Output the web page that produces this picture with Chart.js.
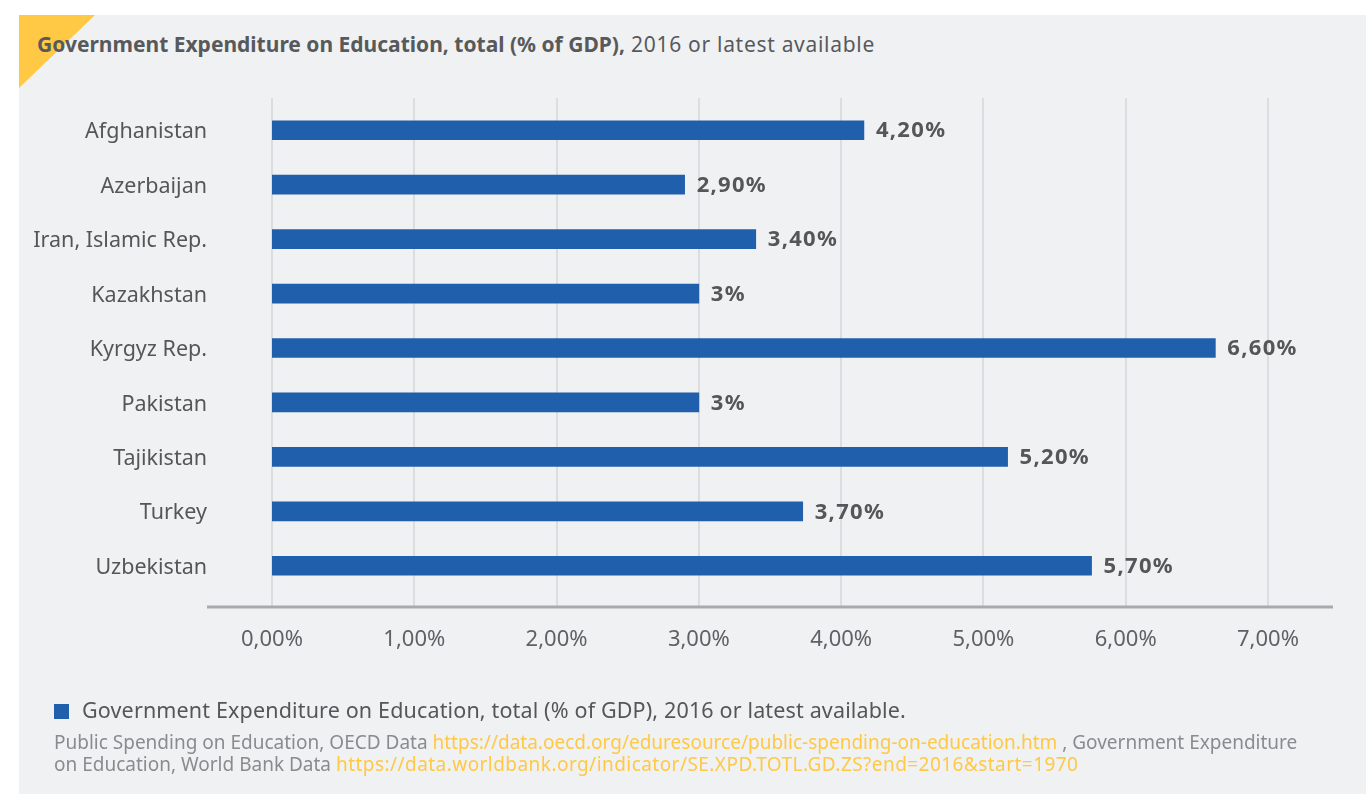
<!DOCTYPE html>
<html>
<head>
<meta charset="utf-8">
<script src="https://cdn.jsdelivr.net/npm/chart.js@4/dist/chart.umd.min.js"></script>
<style>
  body { margin: 0; background: #fff; width: 1366px; height: 794px; overflow: hidden; font-family: "Noto Sans", sans-serif; }
  .panel { position: absolute; left: 19px; top: 15px; width: 1347px; height: 779px; background: #f0f1f3; }
  .corner { position: absolute; left: 19px; top: 15px; width: 76px; height: 73px; background: #ffc845; clip-path: polygon(0 0, 100% 0, 0 100%); }
  .title { position: absolute; left: 37px; top: 30px; font-size: 21px; color: #58595b; white-space: nowrap; letter-spacing: 0.7px; }
  .title b { font-weight: 700; letter-spacing: 0; }
  #wrap { position: absolute; left: 0; top: 0; width: 1366px; height: 794px; }
  .legend { position: absolute; left: 54px; top: 695px; font-size: 21.5px; color: #555658; white-space: nowrap; letter-spacing: 0.15px; }
  .legend span.box { display: inline-block; width: 15px; height: 15px; background: #1f5fac; margin-right: 13px; vertical-align: -1px; }
  .source { position: absolute; left: 54px; top: 731px; width: 1262px; font-size: 19px; line-height: 22px; color: #8a8b8e; }
  .source a { color: #ffc845; text-decoration: none; }
  .source a.wb { letter-spacing: 0.45px; }
</style>
</head>
<body>
<div class="panel"></div>
<div class="corner"></div>
<div class="title"><b>Government Expenditure on Education, total (% of GDP),</b> 2016 or latest available</div>
<div id="wrap"><canvas id="myChart" width="1366" height="794"></canvas></div>
<div class="legend" id="legend"></div>
<div class="source">Public Spending on Education, OECD Data <a>https://data.oecd.org/eduresource/public-spending-on-education.htm</a> , Government Expenditure on Education, World Bank Data <a class="wb">https://data.worldbank.org/indicator/SE.XPD.TOTL.GD.ZS?end=2016&amp;start=1970</a></div>
<script>
var countries = ["Afghanistan", "Azerbaijan", "Iran, Islamic Rep.", "Kazakhstan", "Kyrgyz Rep.", "Pakistan", "Tajikistan", "Turkey", "Uzbekistan"]
var spending = [4.16, 2.9, 3.4, 3.0, 6.63, 3.0, 5.17, 3.73, 5.76]
var spendingLabels = ["4,20%", "2,90%", "3,40%", "3%", "6,60%", "3%", "5,20%", "3,70%", "5,70%"]
var tickLabels = ["0,00%", "1,00%", "2,00%", "3,00%", "4,00%", "5,00%", "6,00%", "7,00%"]
var seriesName = "Government Expenditure on Education, total (% of GDP), 2016 or latest available."

document.getElementById("legend").innerHTML = '<span class="box"></span>' + seriesName

// grid lines and the base line run a bit past the plot area
var gridPlugin = {
    id: "gridLines",
    beforeDatasetsDraw: function(chart){
        var ctx = chart.ctx
        var x = chart.scales.x
        ctx.save()
        ctx.strokeStyle = "#dcdde0"
        ctx.lineWidth = 2
        x.ticks.forEach(function(t){
            var px = Math.round(x.getPixelForValue(t.value))
            ctx.beginPath()
            ctx.moveTo(px, 98)
            ctx.lineTo(px, 607)
            ctx.stroke()
        })
        ctx.strokeStyle = "#a9aaad"
        ctx.lineWidth = 3
        ctx.beginPath()
        ctx.moveTo(207, 607)
        ctx.lineTo(1333, 607)
        ctx.stroke()
        ctx.restore()
    },
    afterDatasetsDraw: function(chart){
        var ctx = chart.ctx
        ctx.save()
        ctx.font = "bold 22px 'Noto Sans'"
        ctx.letterSpacing = "1.3px"
        ctx.fillStyle = "#555658"
        ctx.textBaseline = "middle"
        chart.getDatasetMeta(0).data.forEach(function(bar, i){
            ctx.fillText(spendingLabels[i], bar.x + 12, bar.y + 1)
        })
        ctx.restore()
    }
}

var ctx = document.getElementById("myChart")
var myBarChart = new Chart(ctx, {
    type: "bar",
    data: {
        labels: countries,
        datasets: [{
            label: seriesName,
            data: spending,
            backgroundColor: "#1f5fac",
            barThickness: 19
        }]
    },
    options: {
        indexAxis: "y",
        responsive: false,
        animation: false,
        devicePixelRatio: 1,
        layout: { padding: { top: 103, right: 98, bottom: 141, left: 0 } },
        plugins: { legend: { display: false }, tooltip: { enabled: false } },
        scales: {
            x: {
                min: 0,
                max: 7,
                ticks: {
                    stepSize: 1,
                    padding: 26,
                    color: "#606164",
                    font: { family: "Noto Sans", size: 22 },
                    callback: function(value, index){ return tickLabels[index] }
                },
                grid: { display: false },
                border: { display: false },
                afterFit: function(scale){ scale.height = 60 }
            },
            y: {
                ticks: {
                    padding: 57,
                    labelOffset: 2,
                    color: "#555658",
                    font: { family: "Noto Sans", size: 21.5 }
                },
                grid: { display: false },
                border: { display: false },
                afterFit: function(scale){ scale.width = 272 }
            }
        }
    },
    plugins: [gridPlugin]
})
</script>
</body>
</html>
